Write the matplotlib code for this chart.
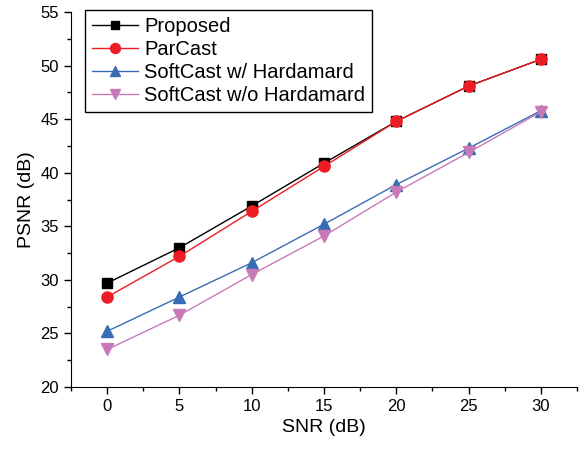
import matplotlib.pyplot as plt
from matplotlib.ticker import MultipleLocator

plt.rcParams['font.family'] = ['Liberation Sans', 'DejaVu Sans']

#data
snr = [0, 5, 10, 15, 20, 25, 30]
proposed = [29.7, 33.0, 36.9, 40.9, 44.8, 48.1, 50.6]
parcast = [28.4, 32.2, 36.4, 40.6, 44.8, 48.1, 50.6]
softcast_h = [25.2, 28.4, 31.6, 35.2, 38.9, 42.3, 45.8]
softcast_noh = [23.5, 26.7, 30.5, 34.1, 38.2, 41.9, 45.7]

#plot
fig = plt.figure(figsize=(5.87, 4.51), dpi=100)
ax = fig.add_axes([0.121, 0.142, 0.862, 0.831])

ax.plot(snr, proposed, color='black', marker='s', markersize=7, lw=1, label='Proposed')
ax.plot(snr, parcast, color='#ee1c25', marker='o', markersize=8, lw=1, label='ParCast')
ax.plot(snr, softcast_h, color='#3a6cb5', marker='^', markersize=8, lw=1, label='SoftCast w/ Hardamard')
ax.plot(snr, softcast_noh, color='#c87ab8', marker='v', markersize=8, lw=1, label='SoftCast w/o Hardamard')

ax.set_xlim(-2.5, 32.5)
ax.set_ylim(20, 55)
ax.xaxis.set_major_locator(MultipleLocator(5))
ax.xaxis.set_minor_locator(MultipleLocator(2.5))
ax.yaxis.set_major_locator(MultipleLocator(5))
ax.yaxis.set_minor_locator(MultipleLocator(2.5))
ax.tick_params(which='major', direction='out', length=5, width=1, labelsize=12)
ax.tick_params(which='minor', direction='out', length=3, width=1)
ax.spines['top'].set_visible(False)
ax.spines['right'].set_visible(False)
ax.set_xlabel('SNR (dB)', fontsize=14)
ax.set_ylabel('PSNR (dB)', fontsize=14)

leg = ax.legend(loc='upper left', bbox_to_anchor=(85 / 587, 1 - 10 / 451),
                bbox_transform=fig.transFigure, borderaxespad=0, fontsize=14.5,
                fancybox=False, edgecolor='black', framealpha=1, handlelength=2.3,
                borderpad=0.35, labelspacing=0.2, handletextpad=0.3, markerscale=0.9)
leg.get_frame().set_linewidth(1)

fig.savefig('out.png', dpi=100)
